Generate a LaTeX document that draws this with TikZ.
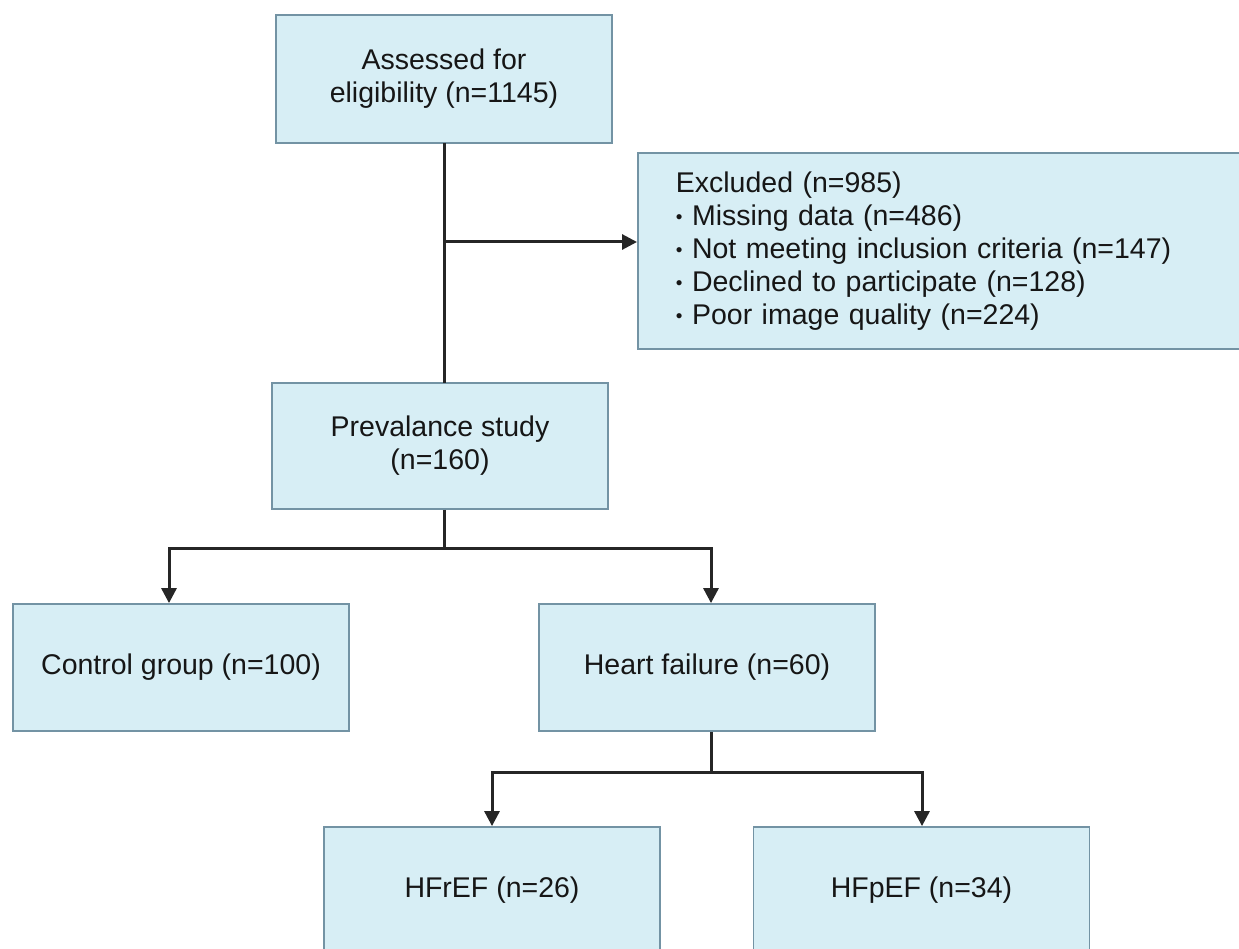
\documentclass[tikz,border=0pt]{standalone}
\usepackage{fontspec}
\setmainfont{Liberation Sans}
\usetikzlibrary{arrows.meta}
\definecolor{boxfill}{HTML}{D7EEF5}
\definecolor{boxline}{HTML}{7393A4}
\definecolor{conn}{HTML}{262626}
\definecolor{txt}{HTML}{161616}
\newcommand{\bulletmark}{\raisebox{1.5pt}{\fontsize{19}{19}\selectfont •}}
\begin{document}
\begin{tikzpicture}[x=1pt,y=-1pt,
  flowbox/.style={draw=boxline, line width=1.8pt, fill=boxfill, text=txt, inner sep=0pt,
    align=center, font=\fontsize{28.5}{33}\selectfont},
  conline/.style={draw=conn, line width=3pt},
  conarrow/.style={conline, -{Triangle[length=15pt,width=15pt]}}]
\useasboundingbox[fill=white] (0,0) rectangle (1239,949);

\node[flowbox, minimum width=336pt, minimum height=128pt] (ae) at (444,79) {Assessed for\\eligibility (n=1145)};
\node[flowbox, minimum width=336pt, minimum height=126pt] (pv) at (440,446) {Prevalance study\\(n=160)};
\node[flowbox, anchor=west, text width=529pt, inner xsep=38pt, minimum height=196pt, align=left] (ex) at (637,251)
  {Excluded (n=985)\\
   \bulletmark\ Missing data (n=486)\\
   \bulletmark\ Not meeting inclusion criteria (n=147)\\
   \bulletmark\ Declined to participate (n=128)\\
   \bulletmark\ Poor image quality (n=224)};
\node[flowbox, minimum width=336pt, minimum height=127pt] (cg) at (181,667.5) {Control group (n=100)};
\node[flowbox, minimum width=336pt, minimum height=127pt] (hf) at (707,667.5) {Heart failure (n=60)};
\node[flowbox, minimum width=336pt, minimum height=127pt] (hr) at (492,890.5) {HFrEF (n=26)};
\node[flowbox, minimum width=336pt, minimum height=127pt] (hp) at (921.5,890.5) {HFpEF (n=34)};

\coordinate (t0) at (444,143);
\coordinate (t1) at (444,383);
\coordinate (j0) at (444,242);
\coordinate (j1) at (444,548);
\coordinate (j2) at (711,772);
\coordinate (a1) at (169,548);
\coordinate (a2) at (711,548);
\coordinate (a3) at (492,772);
\coordinate (a4) at (922,772);

\draw[conline] (t0) -- (t1);
\draw[conarrow] (j0) -- (ex.west |- j0);
\draw[conline] (pv.south -| j1) -- (j1);
\draw[conarrow] (j1) -- (a1) -- (cg.north -| a1);
\draw[conarrow] (j1) -- (a2) -- (hf.north -| a2);
\draw[conline] (hf.south -| j2) -- (j2);
\draw[conarrow] (j2) -- (a3) -- (hr.north -| a3);
\draw[conarrow] (j2) -- (a4) -- (hp.north -| a4);
\end{tikzpicture}
\end{document}
